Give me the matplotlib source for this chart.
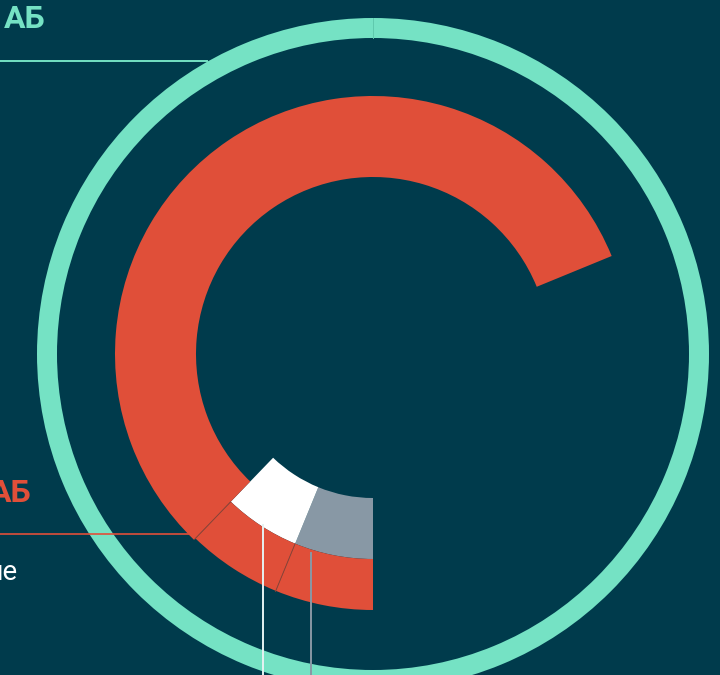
import numpy as np
import matplotlib
matplotlib.use("Agg")
import matplotlib.pyplot as plt

# ---- data (percent of full circle, clockwise from 6 o'clock) ----
segment_names = ["grey", "white", "red_main", "rest"]
grey_value = 6.2
white_value = 6.0
red_main_value = 56.6
ring_value = [100]
label_texts = ["АБ", "АБ", "ше"]

BG = "#003B4C"
RED = "#E04F39"
MINT = "#75E2C4"
GREY = "#8898A5"
WHITE = "#FFFFFF"
NONE = (0, 0, 0, 0)

W, H = 720, 675
fig = plt.figure(figsize=(W / 100, H / 100), dpi=100, facecolor=BG)
ax = fig.add_axes([0, 0, 1, 1])
ax.set_facecolor(BG)

cx, cy = 373, H - 354
center = (cx, cy)
small_total = grey_value + white_value
rest = 100 - small_total - red_main_value

# mint outer ring
ax.pie(ring_value, radius=336, center=center, colors=[MINT], startangle=90,
       counterclock=False, wedgeprops=dict(width=20, linewidth=0))

# inner ring: grey + white
ax.pie([grey_value, white_value, 100 - small_total], radius=205, center=center,
       colors=[GREY, WHITE, NONE], startangle=-90, counterclock=False,
       wedgeprops=dict(width=61, linewidth=0))
# outer small red ring parts
ax.pie([grey_value, white_value, 100 - small_total], radius=256, center=center,
       colors=[RED, RED, NONE], startangle=-90, counterclock=False,
       wedgeprops=dict(width=51, linewidth=0))
# main red arc
ax.pie([small_total, red_main_value, rest], radius=258, center=center,
       colors=[NONE, RED, NONE], startangle=-90, counterclock=False,
       wedgeprops=dict(width=81, linewidth=0))


def polar(frac_pct, r):
    th = np.deg2rad(-90 - frac_pct * 3.6)
    return cx + r * np.cos(th), cy + r * np.sin(th)


# seams between red segments
for f in (grey_value, small_total):
    x0, y0 = polar(f, 205)
    x1, y1 = polar(f, 257)
    ax.plot([x0, x1], [y0, y1], color="#8a4438", lw=0.7, solid_capstyle="butt")
# seam at top of mint ring
x0, y0 = polar(50, 316)
x1, y1 = polar(50, 336)
ax.plot([x0, x1], [y0, y1], color="#5fc9ad", lw=0.7)

# leader lines
ax.plot([0, 207], [H - 61, H - 61], color=MINT, lw=1.4)
ax.plot([0, 194], [H - 534, H - 534], color=RED, lw=1.2)
wx, wy = polar(grey_value + white_value / 2, 204)
ax.plot([wx + 1, wx + 1], [wy, 0], color="#E6F2F2", lw=1.4)
ax.plot([311, 311], [H - 553, 0], color=GREY, lw=1.4)

# labels (clipped at the left edge as in the reference)
ax.text(45, H - 28, label_texts[0], color=MINT, fontsize=23, family="Roboto",
        weight="bold", ha="right", va="baseline")
ax.text(31, H - 502, label_texts[1], color=RED, fontsize=23, family="Roboto",
        weight="bold", ha="right", va="baseline")
ax.text(18, H - 580, label_texts[2], color=WHITE, fontsize=20, family="Roboto",
        ha="right", va="baseline")

ax.set_xlim(0, W)
ax.set_ylim(0, H)
ax.set_aspect("auto")
ax.axis("off")

fig.savefig("out.png", dpi=100, facecolor=BG)
